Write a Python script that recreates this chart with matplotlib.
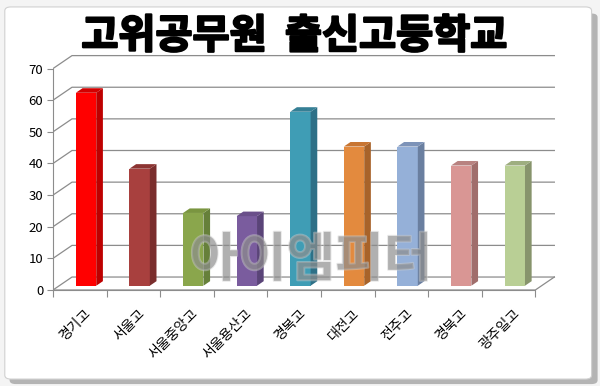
import matplotlib
matplotlib.use('Agg')
import matplotlib.pyplot as plt
from matplotlib.patches import Polygon, FancyBboxPatch
import matplotlib.patheffects as pe
import numpy as np

plt.rcParams['font.family'] = ['Noto Sans CJK KR', 'DejaVu Sans']

schools = ['경기고', '서울고', '서울중앙고', '서울용산고', '경복고', '대전고', '전주고', '경북고', '광주일고']
counts = [61, 37, 23, 22, 55, 44, 44, 38, 38]
front_colors = ['#FF0000', '#A8403E', '#8AA64C', '#7A5C9E', '#3F9DB5', '#E38A3E', '#95B0D8', '#D99694', '#B9CF95']
side_colors = ['#BE0000', '#7A2E2D', '#66803A', '#5A4478', '#2E7087', '#A8632A', '#6A7FA0', '#A06E6C', '#87946C']
top_colors = ['#D20000', '#8C3432', '#7A9540', '#6A4F8A', '#357F95', '#C87532', '#7D93B8', '#B88280', '#9EAE80']
yticks = [0, 10, 20, 30, 40, 50, 60, 70]

# oblique depth: full depth shift in data units
DX, DY = 0.355, 4.1
def proj(x, y, z):
    return x + z * DX, y + z * DY

fig = plt.figure(figsize=(6, 3.86), dpi=100)
fig.patch.set_facecolor('#F4F4F4')

# outer frame with shadow
shadow = FancyBboxPatch((0.016, 0.005), 0.98, 0.96, boxstyle='round,pad=0,rounding_size=0.01',
                        transform=fig.transFigure, facecolor='#8A8A8A', edgecolor='none', alpha=0.6, zorder=-3)
frame = FancyBboxPatch((0.008, 0.018), 0.978, 0.964, boxstyle='round,pad=0,rounding_size=0.01',
                       transform=fig.transFigure, facecolor='white', edgecolor='#D0D0D0', lw=0.8, zorder=-2)
fig.patches.extend([shadow, frame])

fig.text(0.49, 0.905, '고위공무원  출신고등학교', ha='center', va='center',
         fontsize=29, fontweight='black', color='black',
         path_effects=[pe.withStroke(linewidth=1.6, foreground='black')])

ax = fig.add_axes([0.0883, 0.2487, 0.845, 0.622])
ax.set_xlim(0, 9.46)
ax.set_ylim(0, 75.9)
ax.patch.set_alpha(0)
n = len(schools)

# walls and gridlines
gc = '#8C8C8C'
for v in yticks:
    x0, y0 = proj(0, v, 0)
    x1, y1 = proj(0, v, 1)
    x2, y2 = proj(n, v, 1)
    ax.plot([x0, x1, x2], [y0, y1, y2], color=gc, lw=0.9, zorder=1)
# floor
fx, fy = proj(n, 0, 1)
ax.plot([0, n, fx], [0, 0, fy], color=gc, lw=0.9, zorder=1)

# 3D-looking bars
zf, zb, w = 0.33, 0.68, 0.38
xs = np.arange(n) + 0.5 - w / 2
bx, by = proj(0, 0, zf)
ax.bar(xs + bx, counts, bottom=by, width=w, align='edge', color=front_colors, zorder=3)
for i, v in enumerate(counts):
    l = xs[i]
    r = xs[i] + w
    side = [proj(r, 0, zf), proj(r, 0, zb), proj(r, v, zb), proj(r, v, zf)]
    top = [proj(l, v, zf), proj(r, v, zf), proj(r, v, zb), proj(l, v, zb)]
    ax.add_patch(Polygon(side, closed=True, facecolor=side_colors[i], edgecolor='none', zorder=3))
    ax.add_patch(Polygon(top, closed=True, facecolor=top_colors[i], edgecolor='none', zorder=3))

# axes spines and ticks
for s in ['top', 'right']:
    ax.spines[s].set_visible(False)
ax.spines['left'].set_bounds(0, 70)
ax.spines['bottom'].set_bounds(0, n)
ax.spines['left'].set_color(gc)
ax.spines['bottom'].set_color(gc)
ax.set_yticks(yticks)
ax.tick_params(axis='y', length=4, color=gc, labelsize=9.5, pad=3)
ax.set_xticks(np.arange(n + 1))
ax.set_xticklabels([])
ax.tick_params(axis='x', which='major', length=5, color=gc)
ax.set_xticks(np.arange(n) + 0.58, minor=True)
ax.set_xticklabels(schools, minor=True, rotation=45, ha='right', rotation_mode='anchor', fontsize=10)
ax.tick_params(axis='x', which='minor', length=0, pad=12)

# watermark
fig.text(0.518, 0.325, '아이엠피터', ha='center', va='center', fontsize=38, fontweight='bold',
         color='#8E8E8E', alpha=0.45, zorder=5,
         path_effects=[pe.withStroke(linewidth=1.5, foreground='#CFCFCF')])

fig.savefig('out.png', dpi=100, facecolor=fig.get_facecolor())
